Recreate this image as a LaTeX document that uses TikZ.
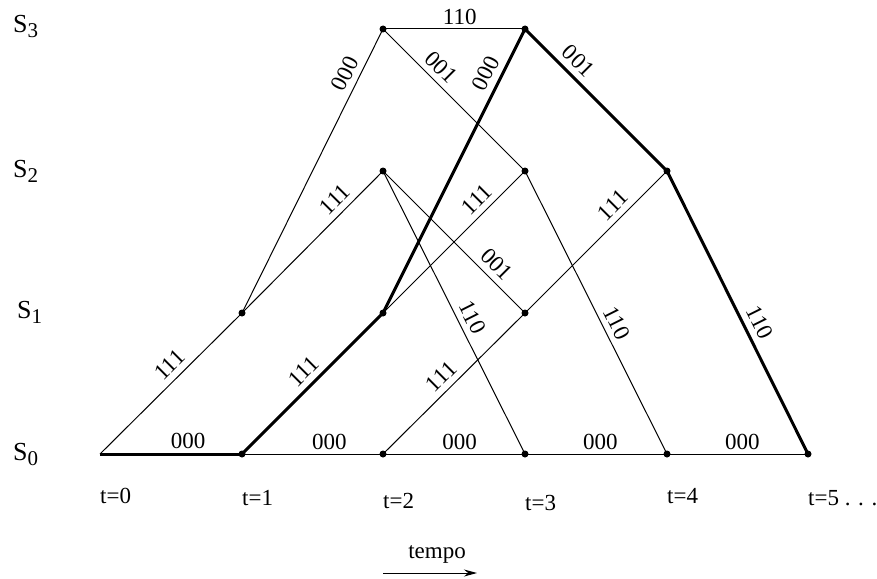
\documentclass[tikz,border=0pt]{standalone}
\usepackage{fontspec}
\setmainfont{Liberation Serif}
\usetikzlibrary{arrows.meta}

\newcommand{\stname}[1]{S\raisebox{-5pt}{\fontsize{21}{24}\selectfont #1}}

\begin{document}
\begin{tikzpicture}[
    x=1pt, y=-1pt,
    dot/.style={circle, fill, inner sep=0pt, minimum size=7pt},
    thin edge/.style={line width=1pt},
    thick edge/.style={line width=3pt},
    lbl/.style={sloped, above, inner sep=6pt, font=\fontsize{23}{27}\selectfont},
    hlbl/.style={above, inner sep=4pt, font=\fontsize{23}{27}\selectfont},
    tlabel/.style={anchor=base west, inner sep=0pt, font=\fontsize{23}{27}\selectfont},
    state/.style={anchor=base west, inner sep=0pt, font=\fontsize{26}{30}\selectfont}
]
    \useasboundingbox (0,0) rectangle (877,578);

    % States
    \node[state] (lS3) at (13,33) {\stname{3}};
    \node[state] (lS2) at (13,177) {\stname{2}};
    \node[state] (lS1) at (17,318) {\stname{1}};
    \node[state] (lS0) at (13,460) {\stname{0}};

    % Trellis points
    \coordinate (s0t0) at (100,454);
    \node[dot] (s0t1) at (242,454) {};
    \node[dot] (s1t1) at (242,313) {};
    \node[dot] (s0t2) at (383,454) {};
    \node[dot] (s1t2) at (383,313) {};
    \node[dot] (s2t2) at (383,171) {};
    \node[dot] (s3t2) at (383,29) {};
    \node[dot] (s0t3) at (525,454) {};
    \node[dot] (s1t3) at (525,313) {};
    \node[dot] (s2t3) at (525,171) {};
    \node[dot] (s3t3) at (525,29) {};
    \node[dot] (s0t4) at (667,454) {};
    \node[dot] (s2t4) at (667,171) {};
    \node[dot] (s0t5) at (808,454) {};

    % Time labels
    \node[tlabel] (t0) at (100,503) {t=0};
    \node[tlabel] (t1) at (242,505) {t=1};
    \node[tlabel] (t2) at (383,508) {t=2};
    \node[tlabel] (t3) at (525,510) {t=3};
    \node[tlabel] (t4) at (667,503) {t=4};
    \node[tlabel] (t5) at (808,505) {t=5 . . .};

    % Branches from t=0
    \draw[thick edge] (s0t0) -- node[hlbl, pos=.62] {000} (s0t1.center);
    \draw[thin edge] (s0t0) -- node[lbl, pos=.56] {111} (s1t1.center);

    % Branches from t=1
    \draw[thin edge] (s0t1.center) -- node[hlbl, pos=.62] {000} (s0t2.center);
    \draw[thick edge] (s0t1.center) -- node[lbl, pos=.51] {111} (s1t2.center);
    \draw[thin edge] (s1t1.center) -- node[lbl, pos=.82] {000} (s3t2.center);
    \draw[thin edge] (s1t1.center) -- node[lbl, pos=.73] {111} (s2t2.center);

    % Branches from t=2
    \draw[thin edge] (s0t2.center) -- node[hlbl, pos=.54] {000} (s0t3.center);
    \draw[thin edge] (s0t2.center) -- node[lbl, pos=.48] {111} (s1t3.center);
    \draw[thick edge] (s1t2.center) -- node[lbl, pos=.82] {000} (s3t3.center);
    \draw[thin edge] (s1t2.center) -- node[lbl, pos=.73] {111} (s2t3.center);
    \draw[thin edge] (s2t2.center) -- node[lbl, pos=.73] {001} (s1t3.center);
    \draw[thin edge] (s2t2.center) -- node[lbl, pos=.54] {110} (s0t3.center);
    \draw[thin edge] (s3t2.center) -- node[hlbl, pos=.54] {110} (s3t3.center);
    \draw[thin edge] (s3t2.center) -- node[lbl, pos=.34] {001} (s2t3.center);

    % Branches from t=3
    \draw[thin edge] (s0t3.center) -- node[hlbl, pos=.53] {000} (s0t4.center);
    \draw[thin edge] (s1t3.center) -- node[lbl, pos=.69] {111} (s2t4.center);
    \draw[thin edge] (s2t3.center) -- node[lbl, pos=.56] {110} (s0t4.center);
    \draw[thick edge] (s3t3.center) -- node[lbl, pos=.30] {001} (s2t4.center);

    % Branches from t=4
    \draw[thin edge] (s0t4.center) -- node[hlbl, pos=.535] {000} (s0t5.center);
    \draw[thick edge] (s2t4.center) -- node[lbl, pos=.56] {110} (s0t5.center);

    % Time axis
    \node[anchor=base, font=\fontsize{23}{27}\selectfont] (tempo) at (437,558) {tempo};
    \coordinate (arrL) at (383,573);
    \coordinate (arrR) at (477,573);
    \draw[thin edge, -{Stealth[length=13pt, width=7pt]}] (arrL) -- (arrR);
\end{tikzpicture}
\end{document}
